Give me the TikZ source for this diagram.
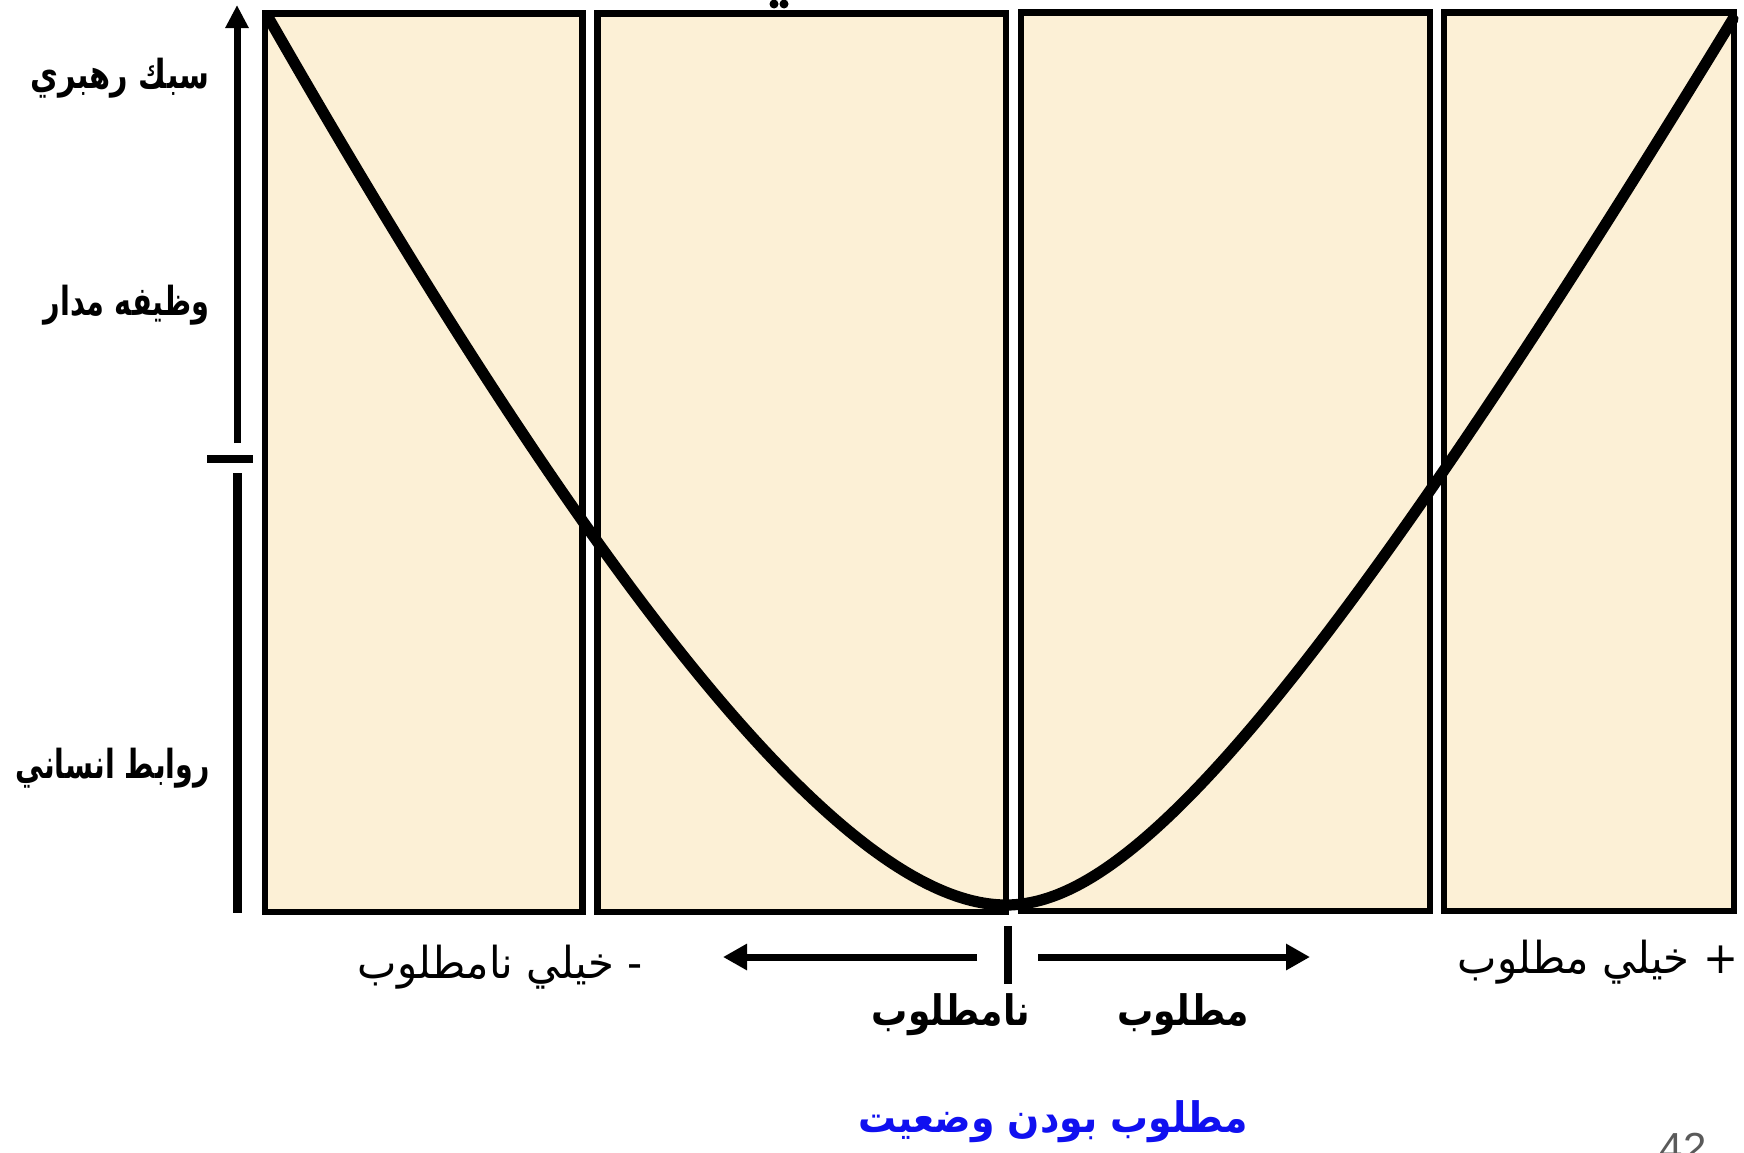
\documentclass[tikz,border=0pt]{standalone}
\usepackage{fontspec}
\usepackage{graphicx}
\usetikzlibrary{arrows.meta}
\TeXXeTstate=1
\newfontfamily\arabicfont[Script=Arabic]{DejaVu Sans}
\newfontfamily\numfont{Liberation Sans}
\definecolor{parch}{RGB}{252,240,214}
\definecolor{titleblue}{RGB}{16,16,240}
\definecolor{pagegray}{RGB}{90,90,90}
\newcommand{\narrowtxt}[2]{\scalebox{#1}[1]{#2}}
\begin{document}
\begin{tikzpicture}[x=0.5pt,y=-0.5pt,
  panel/.style={draw=black, line width=3.2pt, fill=parch},
  ylab/.style={anchor=east, inner sep=0pt, font=\arabicfont\bfseries\fontsize{20}{22}\selectfont},
  xlab/.style={inner sep=0pt, font=\arabicfont\fontsize{22}{24}\selectfont},
  xlabb/.style={inner sep=0pt, font=\arabicfont\bfseries\fontsize{21}{24}\selectfont},
  axisline/.style={line width=3.5pt},
  curveline/.style={line width=5.6pt, line cap=round, line join=round},
  dirarrow/.style={line width=3.5pt, -{Triangle[width=12.5pt,length=12pt]}}]
\clip (0,0) rectangle (1744,1152);
\fill[white] (0,0) rectangle (1744,1152);
% panels
\draw[panel] (265,13.5) rectangle (582.5,912);
\draw[panel] (597.5,13.5) rectangle (1006,912);
\draw[panel] (1021,12.5) rectangle (1430,911);
\draw[panel] (1444,12.5) rectangle (1734,911);
% curve
\coordinate (ctop) at (268,17);
\coordinate (cmin) at (1006,905);
\coordinate (cend) at (1733,19);
\draw[curveline] (ctop) .. controls (598,594) and (846,905) .. (cmin)
  .. controls (1116,905) and (1283,757) .. (cend);
% vertical axis
\coordinate (ya) at (237,443);
\coordinate (yb) at (237,5);
\coordinate (yc) at (237,473);
\coordinate (yd) at (237,913);
\coordinate (tl) at (207,459);
\coordinate (tr) at (253,459);
\draw[axisline, -{Triangle[width=11pt,length=11.5pt]}] (ya) -- (yb);
\draw[line width=4pt] (tl) -- (tr);
\draw[line width=4.5pt] (yc) -- (yd);
% horizontal direction arrows
\coordinate (la) at (977,957);
\coordinate (lb) at (723,957);
\coordinate (ra) at (1038,957);
\coordinate (rb) at (1310,957);
\coordinate (ta) at (1008,926);
\coordinate (tb) at (1008,984);
\draw[dirarrow] (la) -- (lb);
\draw[dirarrow] (ra) -- (rb);
\draw[line width=4pt] (ta) -- (tb);
% y labels
\node[ylab] (sabk) at (210,78) {\narrowtxt{0.76}{\beginR سبك رهبري\endR}};
\node[ylab] (vazife) at (210,305) {\narrowtxt{0.72}{\beginR وظيفه مدار\endR}};
\node[ylab] (ravabet) at (210,768) {\narrowtxt{0.71}{\beginR روابط انساني\endR}};
% x labels
\node[xlab] (kneg) at (500,967) {\narrowtxt{0.95}{\beginR - خيلي نامطلوب\endR}};
\node[xlab] (kpos) at (1598,962) {\narrowtxt{0.95}{\beginR + خيلي مطلوب\endR}};
\node[xlabb] (nam) at (951,1015) {\narrowtxt{0.86}{\beginR نامطلوب\endR}};
\node[xlabb] (mat) at (1183,1015) {\narrowtxt{0.86}{\beginR مطلوب\endR}};
\node[xlabb, text=titleblue] (title) at (1053,1122) {\narrowtxt{0.9}{\beginR مطلوب بودن وضعيت\endR}};
% page number (clipped)
\node[anchor=north, inner sep=0pt, text=pagegray, font=\numfont\fontsize{21}{24}\selectfont] (pnum) at (1683,1133) {42};
% clipped dots at top
\fill (774,4) circle (4.5);
\fill (784,4) circle (4.5);
\end{tikzpicture}
\end{document}
